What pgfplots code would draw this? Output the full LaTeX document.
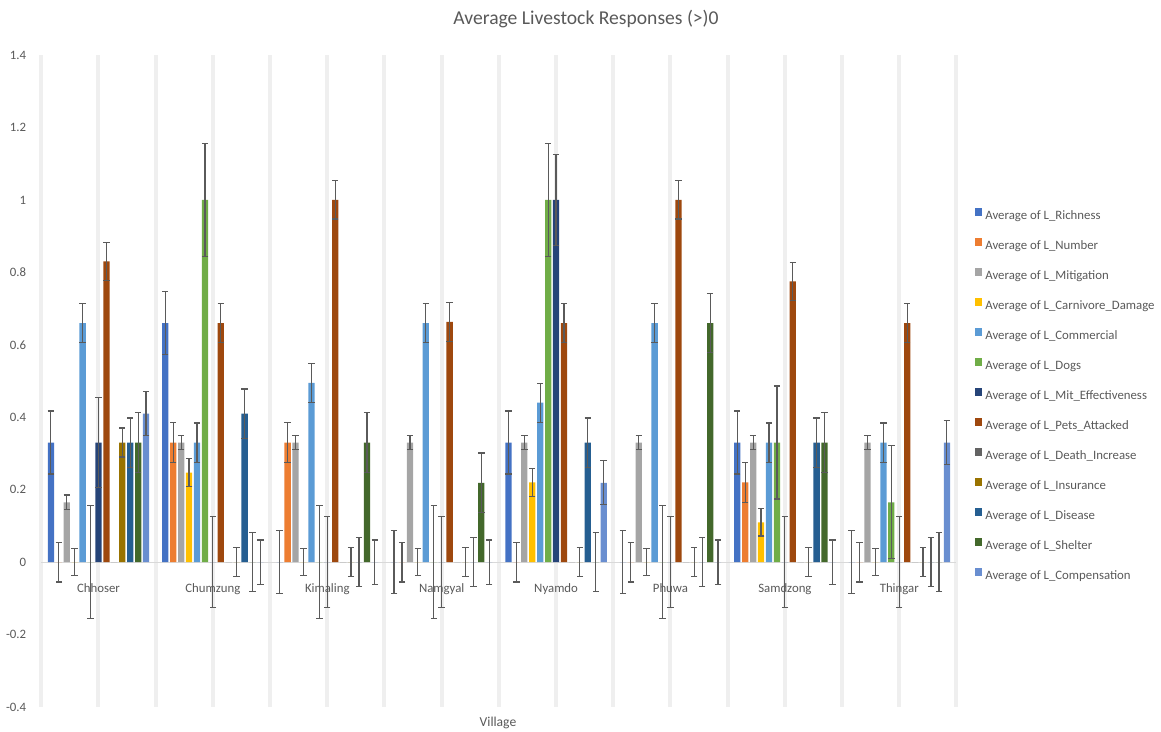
\documentclass[border=0pt]{standalone}
\usepackage{fontspec}
\setmainfont{Carlito}
\usepackage{pgfplots}
\pgfplotsset{compat=1.18}
\definecolor{c1}{HTML}{4472C4}
\definecolor{c2}{HTML}{ED7D31}
\definecolor{c3}{HTML}{A5A5A5}
\definecolor{c4}{HTML}{FFC000}
\definecolor{c5}{HTML}{5B9BD5}
\definecolor{c6}{HTML}{70AD47}
\definecolor{c7}{HTML}{264478}
\definecolor{c8}{HTML}{9E480E}
\definecolor{c9}{HTML}{636363}
\definecolor{c10}{HTML}{997300}
\definecolor{c11}{HTML}{255E91}
\definecolor{c12}{HTML}{43682B}
\definecolor{c13}{HTML}{698ED0}
\definecolor{txt}{HTML}{595959}
\definecolor{gridc}{HTML}{EFEFEF}
\definecolor{zeroc}{HTML}{D9D9D9}
\definecolor{errc}{HTML}{5A5A5A}
\pgfplotsset{
  errstyle/.style={error bars/.cd, y dir=both, y explicit,
    error bar style={draw=errc, color=errc, line width=0.9pt},
    error mark=-,
    error mark options={rotate=90, color=errc, draw=errc, mark size=2.4pt, line width=0.9pt}},
}
\begin{document}
\begin{tikzpicture}
\path[use as bounding box] (0,0) rectangle (870.75pt,549pt);
\begin{axis}[
  at={(30.975pt,18.75pt)}, anchor=south west,
  scale only axis, width=686.4pt, height=489pt,
  xmin=-0.5, xmax=7.5, ymin=-0.4, ymax=1.4,
  axis x line=middle, axis y line=left,
  x axis line style={-, draw=zeroc, line width=0.75pt},
  y axis line style={draw=none},
  hide obscured x ticks=false, hide obscured y ticks=false,
  xtick={0,1,2,3,4,5,6,7},
  xticklabels={Chhoser,Chumzung,Kimaling,Namgyal,Nyamdo,Phuwa,Samdzong,Thingar},
  minor xtick={-0.5,0.5,1.5,2.5,3.5,4.5,5.5,6.5,7.5},
  xmajorgrids, xminorgrids,
  major grid style={draw=gridc, line width=3pt},
  minor grid style={draw=gridc, line width=3pt},
  tick style={draw=none},
  ytick={-0.4,-0.2,0,0.2,0.4,0.6,0.8,1,1.2,1.4},
  yticklabels={-0.4,-0.2,0,0.2,0.4,0.6,0.8,1,1.2,1.4},
  tick label style={font=\fontsize{9.6}{11}\selectfont, text=txt},
  yticklabel style={inner sep=0pt, anchor=east, xshift=-9pt},
  xticklabel style={anchor=base, inner sep=0pt, yshift=-18.75pt},
  ybar=1.25pt, bar width=4.7pt,
  legend style={at={(1.0202,0.765)}, anchor=north west, draw=none, fill=none,
    inner sep=0pt, font=\fontsize{9.6}{11}\selectfont, text=txt, row sep=12pt,
    nodes={inner sep=0pt, text height=7pt, text depth=2pt},
    /tikz/every odd column/.append style={column sep=2.6pt}},
  legend cell align=left,
  legend image code/.code={\fill[#1] (0pt,0pt) rectangle (5pt,6pt);},
]
\addplot[fill=c1, draw=none, errstyle] coordinates {
 (0,0.33) +- (0,0.087) (1,0.66) +- (0,0.087) (2,0) +- (0,0.087) (3,0) +- (0,0.087)
 (4,0.33) +- (0,0.087) (5,0) +- (0,0.087) (6,0.33) +- (0,0.087) (7,0) +- (0,0.087)};
\addplot[fill=c2, draw=none, errstyle] coordinates {
 (0,0) +- (0,0.055) (1,0.33) +- (0,0.055) (2,0.33) +- (0,0.055) (3,0) +- (0,0.055)
 (4,0) +- (0,0.055) (5,0) +- (0,0.055) (6,0.22) +- (0,0.055) (7,0) +- (0,0.055)};
\addplot[fill=c3, draw=none, errstyle] coordinates {
 (0,0.165) +- (0,0.02) (1,0.33) +- (0,0.02) (2,0.33) +- (0,0.02) (3,0.33) +- (0,0.02)
 (4,0.33) +- (0,0.02) (5,0.33) +- (0,0.02) (6,0.33) +- (0,0.02) (7,0.33) +- (0,0.02)};
\addplot[fill=c4, draw=none, errstyle] coordinates {
 (0,0) +- (0,0.038) (1,0.247) +- (0,0.038) (2,0) +- (0,0.038) (3,0) +- (0,0.038)
 (4,0.22) +- (0,0.038) (5,0) +- (0,0.038) (6,0.11) +- (0,0.038) (7,0) +- (0,0.038)};
\addplot[fill=c5, draw=none, errstyle] coordinates {
 (0,0.66) +- (0,0.054) (1,0.33) +- (0,0.054) (2,0.495) +- (0,0.054) (3,0.66) +- (0,0.054)
 (4,0.44) +- (0,0.054) (5,0.66) +- (0,0.054) (6,0.33) +- (0,0.054) (7,0.33) +- (0,0.054)};
\addplot[fill=c6, draw=none, errstyle] coordinates {
 (0,0) +- (0,0.156) (1,1) +- (0,0.156) (2,0) +- (0,0.156) (3,0) +- (0,0.156)
 (4,1) +- (0,0.156) (5,0) +- (0,0.156) (6,0.33) +- (0,0.156) (7,0.165) +- (0,0.156)};
\addplot[fill=c7, draw=none, errstyle] coordinates {
 (0,0.33) +- (0,0.125) (1,0) +- (0,0.125) (2,0) +- (0,0.125) (3,0) +- (0,0.125)
 (4,1) +- (0,0.125) (5,0) +- (0,0.125) (6,0) +- (0,0.125) (7,0) +- (0,0.125)};
\addplot[fill=c8, draw=none, errstyle] coordinates {
 (0,0.83) +- (0,0.053) (1,0.66) +- (0,0.053) (2,1) +- (0,0.053) (3,0.663) +- (0,0.053)
 (4,0.66) +- (0,0.053) (5,1) +- (0,0.053) (6,0.775) +- (0,0.053) (7,0.66) +- (0,0.053)};
\addplot[fill=c9, draw=none] coordinates {
 (0,0) (1,0) (2,0) (3,0) (4,0) (5,0) (6,0) (7,0)};
\addplot[fill=c10, draw=none, errstyle] coordinates {
 (0,0.33) +- (0,0.04) (1,0) +- (0,0.04) (2,0) +- (0,0.04) (3,0) +- (0,0.04)
 (4,0) +- (0,0.04) (5,0) +- (0,0.04) (6,0) +- (0,0.04) (7,0) +- (0,0.04)};
\addplot[fill=c11, draw=none, errstyle] coordinates {
 (0,0.33) +- (0,0.068) (1,0.41) +- (0,0.068) (2,0) +- (0,0.068) (3,0) +- (0,0.068)
 (4,0.33) +- (0,0.068) (5,0) +- (0,0.068) (6,0.33) +- (0,0.068) (7,0) +- (0,0.068)};
\addplot[fill=c12, draw=none, errstyle] coordinates {
 (0,0.33) +- (0,0.082) (1,0) +- (0,0.082) (2,0.33) +- (0,0.082) (3,0.219) +- (0,0.082)
 (4,0) +- (0,0.082) (5,0.66) +- (0,0.082) (6,0.33) +- (0,0.082) (7,0) +- (0,0.082)};
\addplot[fill=c13, draw=none, errstyle] coordinates {
 (0,0.41) +- (0,0.061) (1,0) +- (0,0.061) (2,0) +- (0,0.061) (3,0) +- (0,0.061)
 (4,0.219) +- (0,0.061) (5,0) +- (0,0.061) (6,0) +- (0,0.061) (7,0.33) +- (0,0.061)};
\legend{Average of L\_Richness, Average of L\_Number, Average of L\_Mitigation,
 Average of L\_Carnivore\_Damage, Average of L\_Commercial, Average of L\_Dogs,
 Average of L\_Mit\_Effectiveness, Average of L\_Pets\_Attacked,
 Average of L\_Death\_Increase, Average of L\_Insurance, Average of L\_Disease,
 Average of L\_Shelter, Average of L\_Compensation}
\end{axis}
\node[anchor=base, text=txt, font=\fontsize{14.7}{17}\selectfont, inner sep=0pt] at (439.5pt,530.25pt) {Average Livestock Responses (>)0};
\node[anchor=base, text=txt, font=\fontsize{10.2}{12}\selectfont, inner sep=0pt] at (373.5pt,4pt) {Village};
\end{tikzpicture}
\end{document}
